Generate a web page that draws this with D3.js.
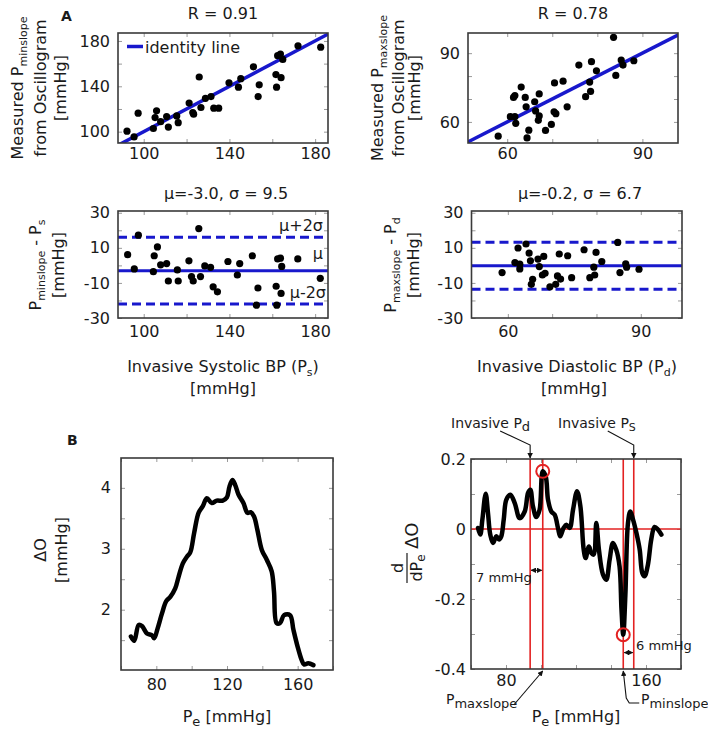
<!DOCTYPE html>
<html><head><meta charset="utf-8">
<script src="https://cdn.jsdelivr.net/npm/d3@7"></script>
<style>body{margin:0;background:#fff} text{font-family:"DejaVu Sans",Verdana,sans-serif;fill:#1a1a1a}</style>
</head><body><script>
// ---------- DATA ----------
const sysInvasive = [92.2,95.5,97.4,104.5,105.3,106.0,107.9,110.7,111.5,115.4,116.1,121.2,122.9,123.3,125.9,126.7,128.8,131.4,132.7,135.0,139.8,144.2,145.3,151.2,153.4,153.9,161.7,162.0,162.5,163.8,164.1,164.9,172.0,182.6];
const sysMeasured = [100.4,95.4,116.3,102.8,112.4,118.4,108.8,113.3,104.0,113.9,107.9,125.2,116.9,115.4,148.2,121.3,129.4,130.9,120.7,120.7,143.1,139.2,146.7,157.2,130.9,141.3,150.3,139.2,167.0,168.5,147.6,163.7,175.7,174.5];
const diaInvasive = [58.0,60.7,61.7,61.9,61.4,61.7,63.1,64.0,64.2,64.4,64.8,66.1,66.3,67.1,67.1,66.9,68.5,69.8,70.4,70.8,70.5,72.4,73.3,75.9,77.4,78.3,78.5,78.7,79.8,83.6,84.1,85.3,85.7,88.1];
const diaMeasured = [53.8,62.3,62.3,59.4,70.7,71.5,75.2,70.7,66.6,53.0,56.4,68.8,64.8,72.2,62.6,60.7,56.3,58.9,64.4,63.6,77.0,77.8,66.6,84.8,71.0,77.4,73.3,86.3,82.3,96.9,80.3,87.0,84.8,86.7];
const baSysX = [92.5,95.6,97.5,104.9,104.5,106.4,107.9,110.7,111.5,115.7,116.1,121.1,122.3,123.1,125.7,126.5,128.5,131.2,132.4,134.4,139.3,143.7,144.8,150.7,153.3,152.6,161.8,162.1,162.5,163.8,164.1,164.4,171.9,182.4];
const baSysDiff = [6.1,-2.0,17.2,5.5,-3.6,10.5,0.3,1.0,-8.9,-2.6,-8.9,2.6,-6.4,-8.9,21.0,-6.4,-0.3,-1.1,-12.2,-15.1,2.2,-5.5,1.0,5.5,-12.9,-22.7,-11.9,-22.7,3.7,4.1,-16.0,-0.6,3.7,-7.4];
const baDiaX = [58.7,61.6,62.3,62.7,62.7,64.1,64.8,65.1,65.3,65.6,66.8,67.1,67.8,68.1,68.4,69.5,70.8,71.2,71.6,71.9,73.5,74.4,77.2,78.5,79.4,79.6,79.9,81.2,84.8,85.3,86.6,86.8,89.6];
const baDiaDiff = [-4.1,1.6,9.9,-2.0,0.7,12.2,7.0,2.6,-10.8,-7.9,3.6,-0.7,-5.5,5.1,-4.5,-12.2,-10.8,-6.0,6.5,-7.8,5.5,-7.0,8.9,-7.0,-1.0,-5.5,7.4,2.2,13.1,-4.1,0.9,-1.0,-2.2];
const sysMean = -3.0, sysSD = 9.5;
const diaMean = -0.2, diaSD = 6.7;
const sysR = 0.91, diaR = 0.78;
const pe = [65.6,67.5,70.0,71.9,74.7,77.5,78.8,80.7,83.2,85.6,87.9,90.7,92.6,95.0,97.3,99.2,101.4,103.9,106.3,108.6,111.4,114.2,117.6,119.9,121.4,123.1,124.6,126.5,129.3,131.6,133.4,135.3,137.2,139.7,142.5,145.3,146.6,148.1,150.0,152.3,155.7,157.6,160.0,162.3,163.6,166.0,168.9];
const deltaO = [1.56,1.49,1.75,1.73,1.61,1.58,1.53,1.69,1.94,2.14,2.21,2.35,2.54,2.76,2.87,2.94,3.26,3.59,3.70,3.83,3.75,3.79,3.79,3.84,4.02,4.13,4.05,3.89,3.75,3.59,3.60,3.53,3.31,2.98,2.82,2.63,2.30,1.78,1.78,1.91,1.91,1.67,1.39,1.17,1.10,1.12,1.09];
const peD = [64.0,65.3,66.5,68.4,69.7,71.0,72.6,74.5,76.0,77.3,78.7,80.2,82.5,85.0,87.8,90.7,92.6,93.9,95.4,97.3,99.2,101.0,102.7,104.0,105.9,107.8,109.7,111.0,112.9,114.5,116.4,118.3,120.6,122.5,124.4,125.5,127.4,128.8,130.1,131.6,133.1,135.4,137.3,139.2,141.1,143.0,144.9,146.0,147.0,148.2,149.7,151.0,152.6,154.5,156.4,157.9,159.2,161.1,163.0,164.9,166.9,168.8];
const dDeltaO = [0.003,-0.016,0.027,0.101,0.046,-0.016,-0.040,-0.021,-0.030,-0.021,0.027,0.084,0.098,0.074,0.031,0.050,0.103,0.112,0.065,0.034,0.055,0.165,0.150,0.084,0.050,0.041,0.003,-0.021,0.003,0.012,0.003,0.055,0.108,0.065,-0.059,-0.083,-0.050,-0.069,-0.073,0.017,-0.059,-0.130,-0.145,-0.088,-0.040,-0.059,-0.107,-0.230,-0.302,-0.190,0.017,0.050,0.027,-0.011,-0.059,-0.126,-0.135,-0.102,-0.030,0.006,-0.002,-0.016];
const invasivePd = 93.8, pMaxslope = 101.0, pMinslope = 147.0, invasivePs = 153.0;
const xTicksSys = [100,120,140,160,180], xLabSys = [100,140,180];
const xTicksDia = [60,70,80,90], xLabDia = [60,90];
const yTicksBA = [-30,-20,-10,0,10,20,30], yLabBA = [-30,-10,10,30];
const xTicksB = [60,80,100,120,140,160,180];
const yTicksB1 = [1.5,2,2.5,3,3.5,4], yLabB1 = [2,3,4];
const yTicksB2 = [-0.4,-0.3,-0.2,-0.1,0,0.1,0.2], yLabB2 = [-0.4,-0.2,0,0.2];

// ---------- DRAW ----------
const BLUE = "#1818cc", RED = "#e32222";
const svg = d3.select("body").append("svg").attr("width",708).attr("height",732);
const defs = svg.append("defs");
function mk(id, orient){
  defs.append("marker").attr("id",id).attr("viewBox","0 0 10 10").attr("refX",9).attr("refY",5)
    .attr("markerWidth",5).attr("markerHeight",5).attr("orient",orient)
    .append("path").attr("d","M0,0L10,5L0,10z").attr("fill","#111");
}
mk("arr","auto"); mk("arrs","auto-start-reverse");

let clipN = 0;
function panel(o){
  const x = d3.scaleLinear().domain(o.xd).range([o.x0,o.x1]);
  const y = d3.scaleLinear().domain(o.yd).range([o.y1,o.y0]);
  const id = "clip"+(++clipN);
  defs.append("clipPath").attr("id",id).append("rect")
    .attr("x",o.x0).attr("y",o.y0).attr("width",o.x1-o.x0).attr("height",o.y1-o.y0);
  const g = svg.append("g");
  const fmt = lab => d => lab.some(v=>Math.abs(v-d)<1e-9) ? String(d) : "";
  const ax = (axis, tr) => {
    const a = g.append("g").attr("transform",tr).call(axis);
    a.select(".domain").remove();
    a.selectAll(".tick line").attr("stroke","#9a9a9a").attr("stroke-width",1);
    a.selectAll("text").attr("font-size",16).attr("font-family","DejaVu Sans").attr("fill","#1a1a1a");
    return a;
  };
  ax(d3.axisBottom(x).tickValues(o.xt).tickFormat(fmt(o.xl)).tickSize(-4).tickPadding(o.xpad||5), `translate(0,${o.y1})`);
  ax(d3.axisTop(x).tickValues(o.xt).tickFormat("").tickSize(-4), `translate(0,${o.y0})`);
  ax(d3.axisLeft(y).tickValues(o.yt).tickFormat(fmt(o.yl)).tickSize(-4).tickPadding(o.ypad||8), `translate(${o.x0},0)`);
  ax(d3.axisRight(y).tickValues(o.yt).tickFormat("").tickSize(-4), `translate(${o.x1},0)`);
  const body = g.append("g").attr("clip-path",`url(#${id})`);
  const box = () => g.append("rect").attr("x",o.x0).attr("y",o.y0).attr("width",o.x1-o.x0).attr("height",o.y1-o.y0)
      .attr("fill","none").attr("stroke","#3a3a3a").attr("stroke-width",1.6);
  return {g, body, x, y, box, o};
}

// rich text: parts = [[text, isSub], ...]
function rich(parent, parts, attrs, subSize, subDy){
  const t = parent.append("text");
  for (const k in attrs) t.attr(k, attrs[k]);
  let shifted = false;
  parts.forEach(([s, sub]) => {
    const ts = t.append("tspan").text(s);
    if (sub && !shifted){ ts.attr("font-size",subSize||11).attr("dy",subDy||4); shifted = true; }
    else if (!sub && shifted){ ts.attr("dy",-(subDy||4)); shifted = false; }
  });
  return t;
}
function rotLabel(cx, cy, parts, fs, subSize, subDy){
  return rich(svg, parts, {transform:`translate(${cx},${cy}) rotate(-90)`, "text-anchor":"middle", "font-size":fs||16}, subSize, subDy);
}

// ---- A1 ----
const A1 = panel({x0:118,x1:328,y0:33,y1:143,xd:[88,186],yd:[90,187],xt:xTicksSys,xl:xLabSys,yt:[100,120,140,160,180],yl:[100,140,180]});
A1.body.append("line").attr("x1",A1.x(80)).attr("y1",A1.y(80)).attr("x2",A1.x(200)).attr("y2",A1.y(200))
  .attr("stroke",BLUE).attr("stroke-width",3.5);
A1.body.selectAll("circle").data(sysInvasive).join("circle")
  .attr("cx",d=>A1.x(d)).attr("cy",(d,i)=>A1.y(sysMeasured[i])).attr("r",3.6).attr("fill","#000");
A1.box();
A1.g.append("line").attr("x1",127).attr("x2",143).attr("y1",46.5).attr("y2",46.5).attr("stroke",BLUE).attr("stroke-width",3.5);
A1.g.append("text").attr("x",145).attr("y",52.5).attr("font-size",16).text("identity line");
svg.append("text").attr("x",223).attr("y",19).attr("text-anchor","middle").attr("font-size",16).text("R = "+sysR.toFixed(2));
rotLabel(23,88,[["Measured P"],["minslope",true]],16,11,4);
rotLabel(46,88,[["from Oscillogram"]],16);
rotLabel(66,88,[["[mmHg]"]],16);
svg.append("text").attr("x",61).attr("y",21).attr("font-size",14).attr("font-weight","bold").text("A");

// ---- A2 ----
const A2 = panel({x0:468,x1:678,y0:33,y1:143,xd:[51.3,97.9],yd:[50.8,98.8],xt:xTicksDia,xl:xLabDia,yt:[60,70,80,90],yl:[60,90]});
A2.body.append("line").attr("x1",A2.x(40)).attr("y1",A2.y(40)).attr("x2",A2.x(110)).attr("y2",A2.y(110))
  .attr("stroke",BLUE).attr("stroke-width",3.5);
A2.body.selectAll("circle").data(diaInvasive).join("circle")
  .attr("cx",d=>A2.x(d)).attr("cy",(d,i)=>A2.y(diaMeasured[i])).attr("r",3.6).attr("fill","#000");
A2.box();
svg.append("text").attr("x",573).attr("y",19).attr("text-anchor","middle").attr("font-size",16).text("R = "+diaR.toFixed(2));
rotLabel(383,88,[["Measured P"],["maxslope",true]],16,11,4);
rotLabel(404,88,[["from Oscillogram"]],16);
rotLabel(420,88,[["[mmHg]"]],16);

// ---- A3 ----
const A3 = panel({x0:118,x1:328,y0:211,y1:318,xd:[88,186],yd:[-30,31],xt:xTicksSys,xl:xLabSys,yt:yTicksBA,yl:yLabBA,xpad:8});
[[sysMean,null],[sysMean+2*sysSD,"9,5"],[sysMean-2*sysSD,"9,5"]].forEach(([v,da])=>{
  A3.body.append("line").attr("x1",A3.o.x0).attr("x2",A3.o.x1).attr("y1",A3.y(v)).attr("y2",A3.y(v))
    .attr("stroke",BLUE).attr("stroke-width",3).attr("stroke-dasharray",da);
});
A3.body.selectAll("circle").data(baSysX).join("circle")
  .attr("cx",d=>A3.x(d)).attr("cy",(d,i)=>A3.y(baSysDiff[i])).attr("r",3.6).attr("fill","#000");
A3.box();
A3.g.append("text").attr("x",323).attr("y",231).attr("text-anchor","end").attr("font-size",16).text("μ+2σ");
A3.g.append("text").attr("x",323).attr("y",259).attr("text-anchor","end").attr("font-size",16).text("μ");
A3.g.append("text").attr("x",326).attr("y",298).attr("text-anchor","end").attr("font-size",16).text("μ-2σ");
svg.append("text").attr("x",226).attr("y",199).attr("text-anchor","middle").attr("font-size",16)
  .text(`μ=${sysMean.toFixed(1)}, σ = ${sysSD.toFixed(1)}`);
rotLabel(41,265,[["P"],["minslope",true],[" - P"],["s",true]],16,11,4);
rotLabel(64,265,[["[mmHg]"]],16);
rich(svg,[["Invasive Systolic BP (P"],["s",true],[")"]],{x:223,y:372,"text-anchor":"middle","font-size":16},11,4);
svg.append("text").attr("x",223).attr("y",394).attr("text-anchor","middle").attr("font-size",16).text("[mmHg]");

// ---- A4 ----
const A4 = panel({x0:471.5,x1:682,y0:211,y1:318,xd:[51.8,99.3],yd:[-30,31],xt:xTicksDia,xl:xLabDia,yt:yTicksBA,yl:yLabBA,xpad:8});
[[diaMean,null],[diaMean+2*diaSD,"9,5"],[diaMean-2*diaSD,"9,5"]].forEach(([v,da])=>{
  A4.body.append("line").attr("x1",A4.o.x0).attr("x2",A4.o.x1).attr("y1",A4.y(v)).attr("y2",A4.y(v))
    .attr("stroke",BLUE).attr("stroke-width",3).attr("stroke-dasharray",da);
});
A4.body.selectAll("circle").data(baDiaX).join("circle")
  .attr("cx",d=>A4.x(d)).attr("cy",(d,i)=>A4.y(baDiaDiff[i])).attr("r",3.6).attr("fill","#000");
A4.box();
svg.append("text").attr("x",580).attr("y",199).attr("text-anchor","middle").attr("font-size",16)
  .text(`μ=${diaMean.toFixed(1)}, σ = ${diaSD.toFixed(1)}`);
rotLabel(396,265,[["P"],["maxslope",true],[" - P"],["d",true]],16,11,4);
rotLabel(419,265,[["[mmHg]"]],16);
rich(svg,[["Invasive Diastolic BP (P"],["d",true],[")"]],{x:577,y:372,"text-anchor":"middle","font-size":16},11,4);
svg.append("text").attr("x",574).attr("y",394).attr("text-anchor","middle").attr("font-size",16).text("[mmHg]");

// ---- B1 ----
const B1 = panel({x0:121,x1:333,y0:458,y1:670,xd:[60,180],yd:[1.01,4.49],xt:xTicksB,xl:[80,120,160],yt:yTicksB1,yl:yLabB1,xpad:9,ypad:10});
B1.body.append("path").datum(pe.map((p,i)=>[p,deltaO[i]]))
  .attr("d",d3.line().x(d=>B1.x(d[0])).y(d=>B1.y(d[1])).curve(d3.curveCatmullRom.alpha(0.5)))
  .attr("fill","none").attr("stroke","#000").attr("stroke-width",4.5).attr("stroke-linejoin","round").attr("stroke-linecap","round");
B1.box();
svg.append("text").attr("x",67).attr("y",445).attr("font-size",14).attr("font-weight","bold").text("B");
rotLabel(46,550,[["ΔO"]],16);
rotLabel(67,550,[["[mmHg]"]],16);
rich(svg,[["P"],["e",true],[" [mmHg]"]],{x:227,y:722,"text-anchor":"middle","font-size":16},13,4);

// ---- B2 ----
const B2 = panel({x0:471,x1:681,y0:459,y1:669,xd:[60,180],yd:[-0.4,0.2],xt:xTicksB,xl:[80,160],yt:yTicksB2,yl:yLabB2,xpad:6,ypad:5});
B2.body.append("line").attr("x1",B2.o.x0).attr("x2",B2.o.x1).attr("y1",B2.y(0)).attr("y2",B2.y(0)).attr("stroke",RED).attr("stroke-width",1.6);
[invasivePd,pMaxslope,pMinslope,invasivePs].forEach(v=>{
  B2.body.append("line").attr("x1",B2.x(v)).attr("x2",B2.x(v)).attr("y1",B2.o.y0).attr("y2",B2.o.y1).attr("stroke",RED).attr("stroke-width",1.6);
});
B2.body.append("path").datum(peD.map((p,i)=>[p,dDeltaO[i]]))
  .attr("d",d3.line().x(d=>B2.x(d[0])).y(d=>B2.y(d[1])).curve(d3.curveCatmullRom.alpha(0.5)))
  .attr("fill","none").attr("stroke","#000").attr("stroke-width",4.5).attr("stroke-linejoin","round").attr("stroke-linecap","round");
const maxV = d3.max(dDeltaO), minV = d3.min(dDeltaO);
[[pMaxslope,maxV],[pMinslope,minV]].forEach(([px,py])=>{
  B2.g.append("circle").attr("cx",B2.x(px)).attr("cy",B2.y(py)).attr("r",6.5).attr("fill","none").attr("stroke",RED).attr("stroke-width",2);
});
B2.box();
// annotations
const xPd = B2.x(invasivePd), xPs = B2.x(invasivePs), xMax = B2.x(pMaxslope), xMin = B2.x(pMinslope);
const topY = B2.o.y0, botY = B2.o.y1;
rich(svg,[["Invasive P"],["d",true]],{x:451,y:428,"font-size":14},13,3);
rich(svg,[["Invasive P"],["S",true]],{x:558,y:428,"font-size":14},11,3);
const ln = (pts, ms, me) => svg.append("path").attr("d",d3.line()(pts)).attr("fill","none").attr("stroke","#111").attr("stroke-width",1.1)
  .attr("marker-start",ms?"url(#arrs)":null).attr("marker-end",me?"url(#arr)":null);
ln([[xPd-30,topY-28],[xPd,topY-14],[xPd,topY-1]],false,true);
ln([[xPs-26,topY-28],[xPs,topY-14],[xPs,topY-1]],false,true);
ln([[xPd+1,B2.y(-0.118)],[xMax-1,B2.y(-0.118)]],true,true);
svg.append("text").attr("x",476).attr("y",B2.y(-0.118)+12).attr("font-size",13).text("7 mmHg");
ln([[xMin+1,B2.y(-0.353)],[xPs-1,B2.y(-0.353)]],true,true);
svg.append("text").attr("x",636).attr("y",B2.y(-0.353)-3).attr("font-size",13).text("6 mmHg");
ln([[xMax-29,botY+36],[xMax,botY+2]],false,true);
rich(svg,[["P"],["maxslope",true]],{x:446,y:704,"font-size":14},13,4);
ln([[xMin+16,botY+34],[xMin+6,botY+34],[xMin+3,botY+29],[xMin,botY+2]],false,true);
rich(svg,[["P"],["minslope",true]],{x:641,y:704,"font-size":14},13,4);
// axis labels
const ylab = svg.append("g").attr("transform","translate(407,550) rotate(-90)");
ylab.append("text").attr("x",-18).attr("y",-4).attr("text-anchor","middle").attr("font-size",16).text("d");
ylab.append("line").attr("x1",-33).attr("x2",-3).attr("y1",0).attr("y2",0).attr("stroke","#1a1a1a").attr("stroke-width",1.2);
rich(ylab,[["dP"],["e",true]],{x:-18,y:15,"text-anchor":"middle","font-size":16},12,3);
ylab.append("text").attr("x",1).attr("y",11).attr("font-size",18).text("ΔO");
rich(svg,[["P"],["e",true],[" [mmHg]"]],{x:576,y:722,"text-anchor":"middle","font-size":16},13,4);
</script></body></html>
